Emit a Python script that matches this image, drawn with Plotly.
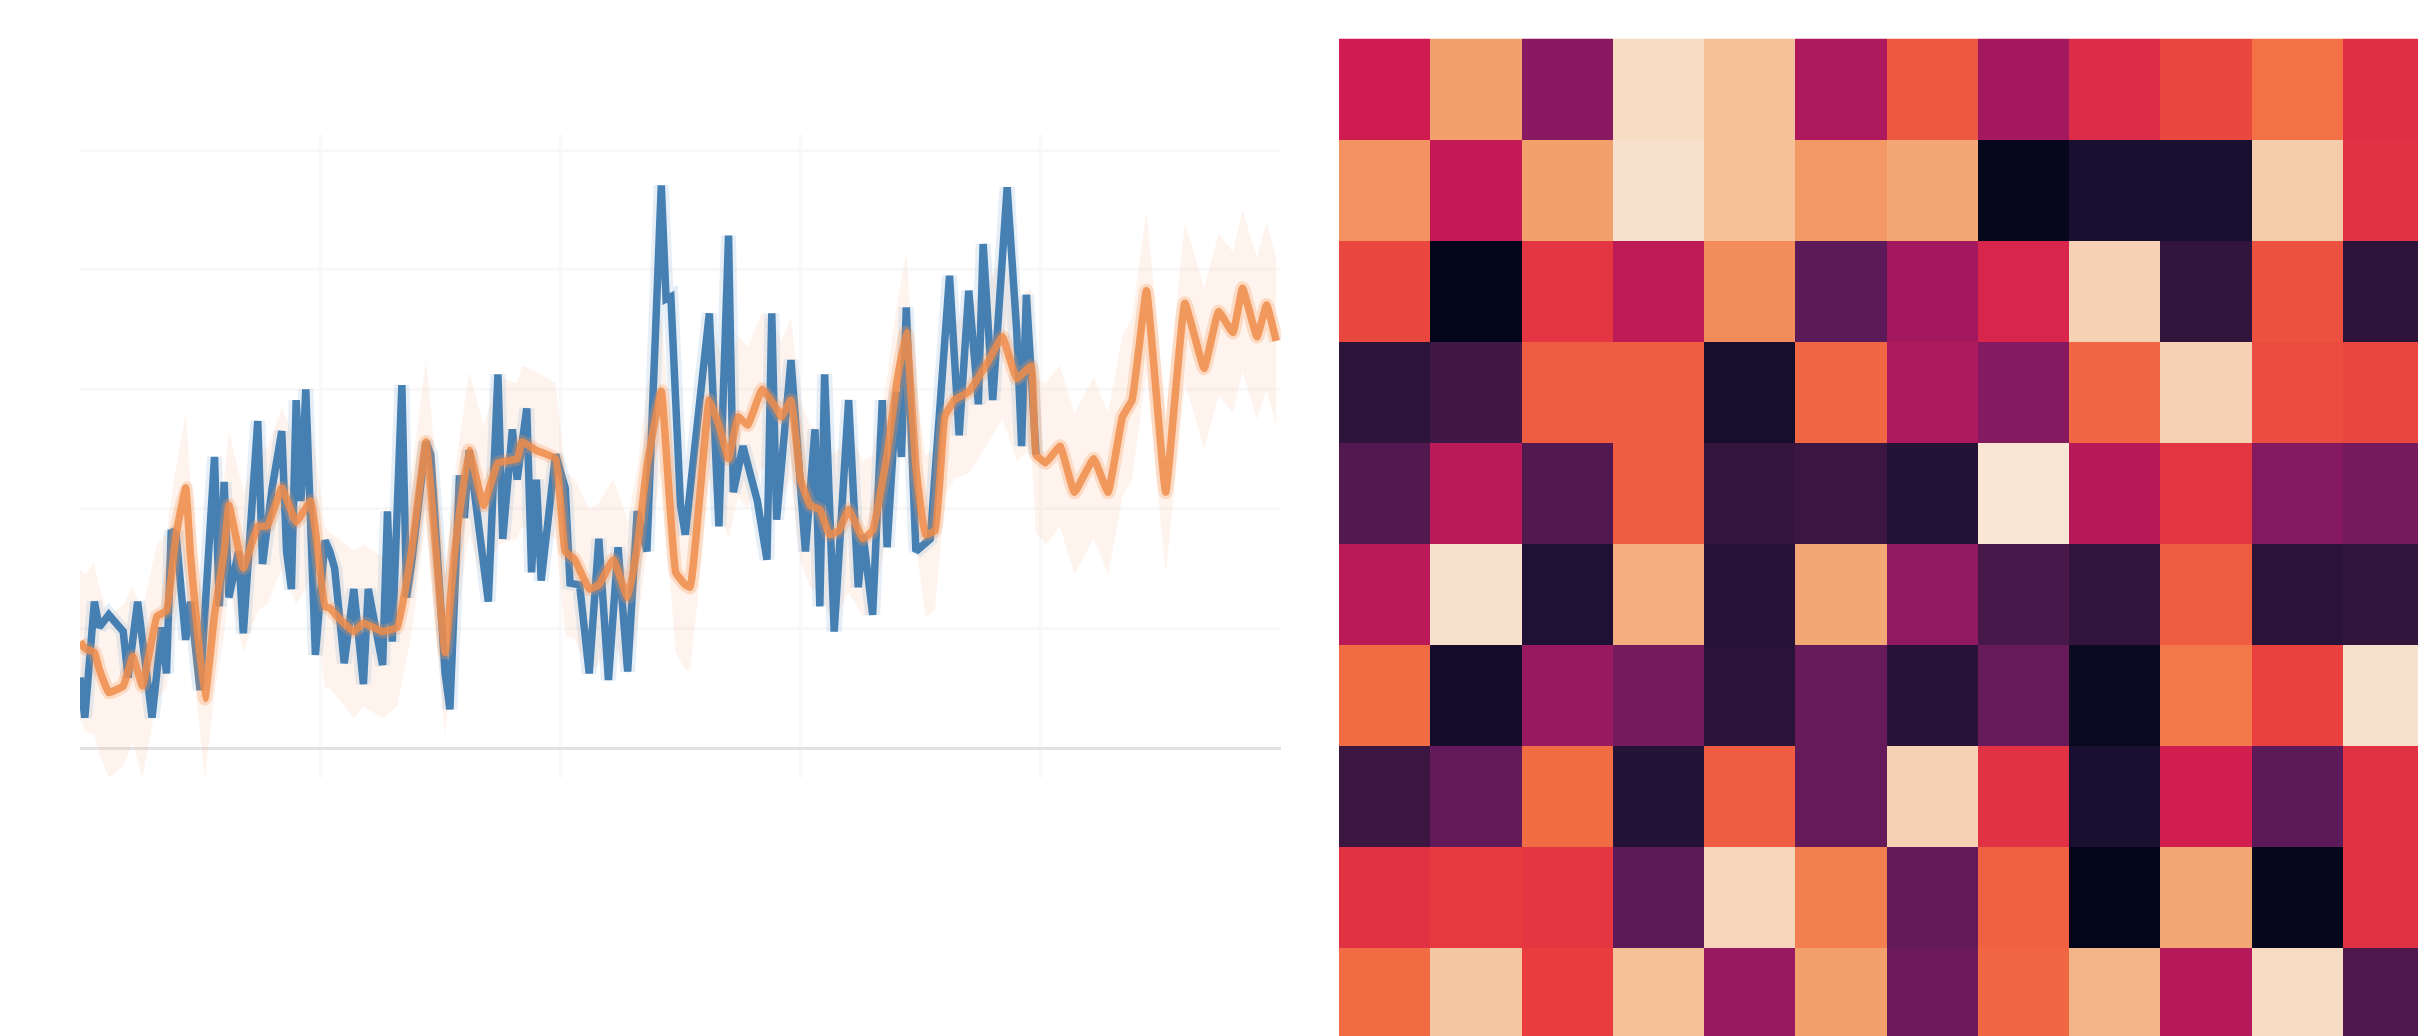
import plotly.graph_objects as go

blue_x = [0,1,3,4,6,9,10,12,13,15,17,18,19,20,22,23,25,28,29,30,31,33,34,37,38,40,42,43,44,45,46,47,49,51,52,53,55,57,59,60,63,64,65,67,68,69,72,73,76,77,79,80,81,85,87,88,90,91,93,94,95,96,99,101,102,104,106,108,110,112,114,116,118,121,122,123,125,126,131,133,135,136,138,141,143,144,145,148,151,153,154,155,157,160,162,163,165,167,168,170,171,172,174,177,181,183,185,187,188,190,193,195,196,197,199]
blue_y = [11.8,5.1,24.5,20.2,22.3,19.5,11.8,24.5,18.1,5.1,20.2,12.5,36.4,35.7,18.1,24.5,9.7,48.7,23.7,44.5,25.2,32.9,19.2,54.7,30.8,43.5,53,32.9,26.6,58.2,41.3,60,15.6,34.7,32.9,30.1,14.2,26.6,10.7,26.6,13.9,39.6,17.8,60.7,25.2,30.8,51.2,49.1,12.5,6.5,45.6,38.5,49.8,24.5,62.5,35,53.3,44.9,56.8,29.4,44.9,28,49.1,43.5,27.6,27.3,12.5,35,11.4,33.6,12.8,39.6,32.9,94.1,75.1,75.5,40.6,35.7,72.7,37.1,85.7,42.8,50.5,41.3,31.5,72.7,38.2,64.9,32.9,53.3,23.7,62.5,19.5,58.2,26.9,35.7,22.3,58.2,33.6,59.6,48.7,73.7,32.9,35,79,52.3,76.5,57.5,84.3,58.2,93.8,69.5,50.5,75.8,49.1]

orange_x = [0,1,3,4,6,9,11,13,16,18,20,22,23,26,28,30,31,34,37,39,42,45,48,49,51,52,54,57,59,63,66,69,72,73,76,78,81,84,87,91,92,95,99,101,103,106,108,111,114,116,118,121,124,126,127,129,131,133,135,137,139,142,145,146,148,150,152,154,156,158,160,163,165,168,170,172,174,176,178,180,182,185,189,192,195,198,199,201,204,207,211,214,217,219,222,226,230,234,237,240,242,245,247,249]
orange_y = [17.8,16.7,16,13.2,9.3,10.4,15.3,10.4,22,23,35.7,43.5,32.2,8.3,22.3,32.9,40.6,30.1,37.1,37.1,43.5,37.8,41.3,36.4,23.7,23.4,21.6,19.5,20.9,19.5,20.2,32.9,51.2,43.5,16,32.9,49.8,40.6,47.7,48.4,51.2,49.8,48.4,32.9,31.5,26.6,27.3,31.5,25.2,33.6,47,59.7,29.4,27.3,26.9,42,58.2,54,48.4,55.4,54,60,56.8,55.4,58.2,44.9,40.6,39.9,35.7,36.4,39.9,35,36.4,49.1,61,69.5,47,35.7,36.4,55.4,58.2,59.6,64.6,68.8,61.8,63.9,49.1,47.7,50.5,42.8,48.4,42.8,55.4,58.2,76.5,42.8,74.4,63.5,73,69.5,76.9,68.8,74.1,68.1]
band_upper = [30,29,31,27,22,24,27,23,34,36,47,56,45,21,35,45,53,43,50,50,57,51,54,49,37,36,35,33,34,32,34,46,65,57,29,46,63,54,62,61,64,63,61,46,45,40,41,45,38,47,60,73,43,41,40,55,71,67,62,69,67,73,70,68,72,58,54,53,49,50,53,48,49,62,74,83,60,49,50,69,71,73,78,82,75,77,62,61,64,56,62,56,69,72,90,56,88,77,86,83,90,82,88,82]
band_lower = [5,3,2,-1,-5,-3,1,-5,8,10,22,30,18,-5,9,19,27,16,23,24,30,24,28,22,10,10,8,5,7,5,7,19,38,30,2,19,36,27,34,35,37,36,35,19,18,13,14,18,12,20,33,46,16,13,13,28,45,40,35,42,40,47,43,42,45,31,27,26,22,23,26,22,23,36,48,56,34,22,23,42,45,46,51,55,48,50,36,34,37,29,35,29,42,45,63,29,61,50,59,56,63,55,60,54]

heat_values = [
    [.60,.87,.43,.97,.92,.52,.75,.50,.65,.72,.80,.66],
    [.85,.57,.87,.98,.92,.86,.88,.01,.08,.08,.94,.67],
    [.72,.00,.68,.56,.84,.30,.50,.63,.95,.17,.74,.15],
    [.15,.22,.76,.76,.07,.78,.52,.42,.78,.95,.73,.72],
    [.27,.55,.27,.76,.18,.20,.12,.99,.54,.68,.42,.38],
    [.55,.98,.10,.89,.13,.88,.45,.24,.17,.76,.14,.17],
    [.79,.06,.47,.38,.14,.33,.13,.33,.03,.81,.71,.98],
    [.20,.32,.79,.12,.76,.33,.95,.67,.08,.61,.30,.67],
    [.67,.69,.68,.30,.96,.82,.32,.77,.00,.88,.01,.67],
    [.79,.93,.70,.92,.47,.87,.35,.78,.90,.54,.97,.26],
]
rocket = [[0,"#03051a"],[.1,"#1f1135"],[.2,"#3a1640"],[.3,"#5c1a58"],[.4,"#7d1a60"],[.5,"#a4185f"],
          [.6,"#d01b50"],[.7,"#e83c3e"],[.8,"#f37144"],[.87,"#f2a06c"],[.93,"#f4c7a2"],[1,"#faebdd"]]

W, H = 2418, 1036
fig = go.Figure()

# forecast band
fig.add_trace(go.Scatter(x=orange_x, y=band_lower, mode="lines", line=dict(width=0),
                         hoverinfo="skip", xaxis="x", yaxis="y"))
fig.add_trace(go.Scatter(x=orange_x, y=band_upper, mode="lines", line=dict(width=0),
                         fill="tonexty", fillcolor="rgba(255,175,125,0.14)", hoverinfo="skip", xaxis="x", yaxis="y"))
# blue target with soft halo
fig.add_trace(go.Scatter(x=blue_x, y=blue_y, mode="lines", line=dict(color="rgba(90,150,200,0.15)", width=15),
                         hoverinfo="skip", xaxis="x", yaxis="y"))
fig.add_trace(go.Scatter(x=blue_x, y=blue_y, mode="lines", line=dict(color="#467fb2", width=7.5),
                         xaxis="x", yaxis="y"))
# orange forecast with soft halo
fig.add_trace(go.Scatter(x=orange_x, y=orange_y, mode="lines",
                         line=dict(color="rgba(245,150,85,0.28)", width=14, shape="spline", smoothing=.3),
                         hoverinfo="skip", xaxis="x", yaxis="y"))
fig.add_trace(go.Scatter(x=orange_x, y=orange_y, mode="lines",
                         line=dict(color="rgba(238,140,75,0.85)", width=7.5, shape="spline", smoothing=.3),
                         xaxis="x", yaxis="y"))
fig.add_trace(go.Heatmap(z=heat_values, colorscale=rocket, zmin=0, zmax=1, showscale=False, xaxis="x2", yaxis="y2"))

fig.update_layout(
    width=W, height=H, margin=dict(l=0, r=0, t=0, b=0),
    paper_bgcolor="white", plot_bgcolor="white", showlegend=False,
    xaxis=dict(domain=[80/W, 1281/W], range=[0, 250], dtick=50, tick0=0, showticklabels=False, ticks="",
               showgrid=True, gridcolor="#f9f9f9", gridwidth=3, zeroline=False),
    yaxis=dict(domain=[1-778/H, 1-134/H], range=[-5, 102.7], dtick=20, tick0=0, showticklabels=False, ticks="",
               showgrid=True, gridcolor="#f8f8f8", gridwidth=3,
               zeroline=True, zerolinecolor="#e2e2e2", zerolinewidth=3),
    xaxis2=dict(domain=[1339/W, 1], range=[-.5, 11.33], showticklabels=False, ticks="", showgrid=False, zeroline=False),
    yaxis2=dict(domain=[0, 1-38.5/H], range=[9.376, -.5], showticklabels=False, ticks="", showgrid=False, zeroline=False),
)
fig.write_html("out.html", config={"displayModeBar": False},
               post_script="document.body.style.margin='0';document.body.style.overflow='hidden';")
